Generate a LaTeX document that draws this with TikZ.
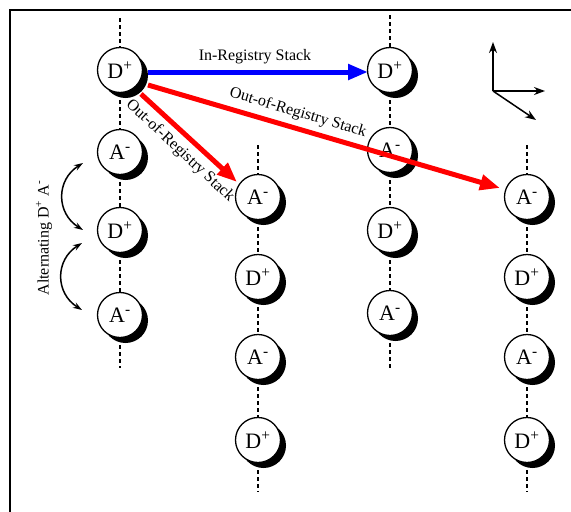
\documentclass[tikz,border=0pt]{standalone}
\usepackage{fontspec}
\setmainfont{Liberation Serif}
\usetikzlibrary{arrows.meta,shadows,calc}
\begin{document}
\begin{tikzpicture}[x=1pt,y=-1pt,
  ion/.style={circle,draw=black,line width=1.3pt,fill=white,minimum size=45pt,inner sep=0pt,
    font=\fontsize{22}{24}\selectfont,
    drop shadow={shadow xshift=5.5pt,shadow yshift=-5.5pt,fill=black,opacity=1}},
  chainline/.style={line width=2.3pt,dash pattern=on 4pt off 3pt},
  bigarrow/.style={line width=5pt,-{Triangle[length=20pt,width=15pt]}},
  lbl/.style={font=\fontsize{16}{18}\selectfont,inner sep=1pt},
  axisarrow/.style={line width=1.5pt,-{Stealth[length=11pt,width=8pt]}},
  altarrow/.style={line width=1.5pt,{Stealth[length=9pt,width=6pt]}-{Stealth[length=9pt,width=6pt]}}]
\useasboundingbox (0,0) rectangle (571,512);
% frame
\draw[line width=1.3pt] (10,512) -- (10,10) -- (571,10);

% column 1
\coordinate (c1t) at (120,18);
\node[ion] (c1a) at (120,70) {D\textsuperscript{+}};
\node[ion] (c1b) at (120,152) {A\textsuperscript{-}};
\node[ion] (c1c) at (120,230) {D\textsuperscript{+}};
\node[ion] (c1d) at (120,315) {A\textsuperscript{-}};
\coordinate (c1e) at (120,368);
% column 2
\coordinate (c2t) at (258,145);
\node[ion] (c2a) at (258,197) {A\textsuperscript{-}};
\node[ion] (c2b) at (258,277) {D\textsuperscript{+}};
\node[ion] (c2c) at (258,357) {A\textsuperscript{-}};
\node[ion] (c2d) at (258,440) {D\textsuperscript{+}};
\coordinate (c2e) at (258,492);
% column 3
\coordinate (c3t) at (390,15);
\node[ion] (c3a) at (390,70) {D\textsuperscript{+}};
\node[ion] (c3b) at (390,150) {A\textsuperscript{-}};
\node[ion] (c3c) at (390,230) {D\textsuperscript{+}};
\node[ion] (c3d) at (390,313) {A\textsuperscript{-}};
\coordinate (c3e) at (390,368);
% column 4
\coordinate (c4t) at (527,145);
\node[ion] (c4a) at (527,197) {A\textsuperscript{-}};
\node[ion] (c4b) at (527,277) {D\textsuperscript{+}};
\node[ion] (c4c) at (527,357) {A\textsuperscript{-}};
\node[ion] (c4d) at (527,440) {D\textsuperscript{+}};
\coordinate (c4e) at (527,492);

% dashed chains
\foreach \c in {1,2,3,4}{
  \draw[chainline] (c\c t) -- (c\c a);
  \draw[chainline] (c\c a) -- (c\c b);
  \draw[chainline] (c\c b) -- (c\c c);
  \draw[chainline] (c\c c) -- (c\c d);
  \draw[chainline] (c\c d) -- (c\c e);
}

% stacking arrows
\draw[bigarrow,blue] ([shift={(28,2)}]c1a.center) -- ([shift={(-22,2)}]c3a.center);
\node[lbl] (inreg) at (255,57) {In-Registry Stack};

\draw[bigarrow,red] ([shift={(28,15)}]c1a.center) -- ([shift={(-27,-9)}]c4a.center);
\node[lbl,rotate=-16.5] (outreg1) at (298,113) {Out-of-Registry Stack};

\draw[bigarrow,red] ([shift={(21,24)}]c1a.center) -- ([shift={(-21,-15)}]c2a.center);
\node[lbl,rotate=-43] (outreg2) at (180,151) {Out-of-Registry Stack};

% axes
\coordinate (ax0) at (493,91);
\coordinate (axy) at (493,42);
\coordinate (axx) at (545,91);
\coordinate (axz) at (536,120);
\draw[axisarrow] (ax0) -- (axy);
\draw[axisarrow] (ax0) -- (axx);
\draw[axisarrow] (ax0) -- (axz);

% alternating arrows
\coordinate (alt1a) at (83,163);
\coordinate (alt1b) at (83,230);
\coordinate (alt2a) at (82,243);
\coordinate (alt2b) at (82,310);
\draw[altarrow] (alt1a) .. controls (56,180) and (56,213) .. (alt1b);
\draw[altarrow] (alt2a) .. controls (55,260) and (55,293) .. (alt2b);
\node[lbl,rotate=90] (altlbl) at (44,238) {Alternating D\textsuperscript{+} A\textsuperscript{-}};
\end{tikzpicture}
\end{document}
